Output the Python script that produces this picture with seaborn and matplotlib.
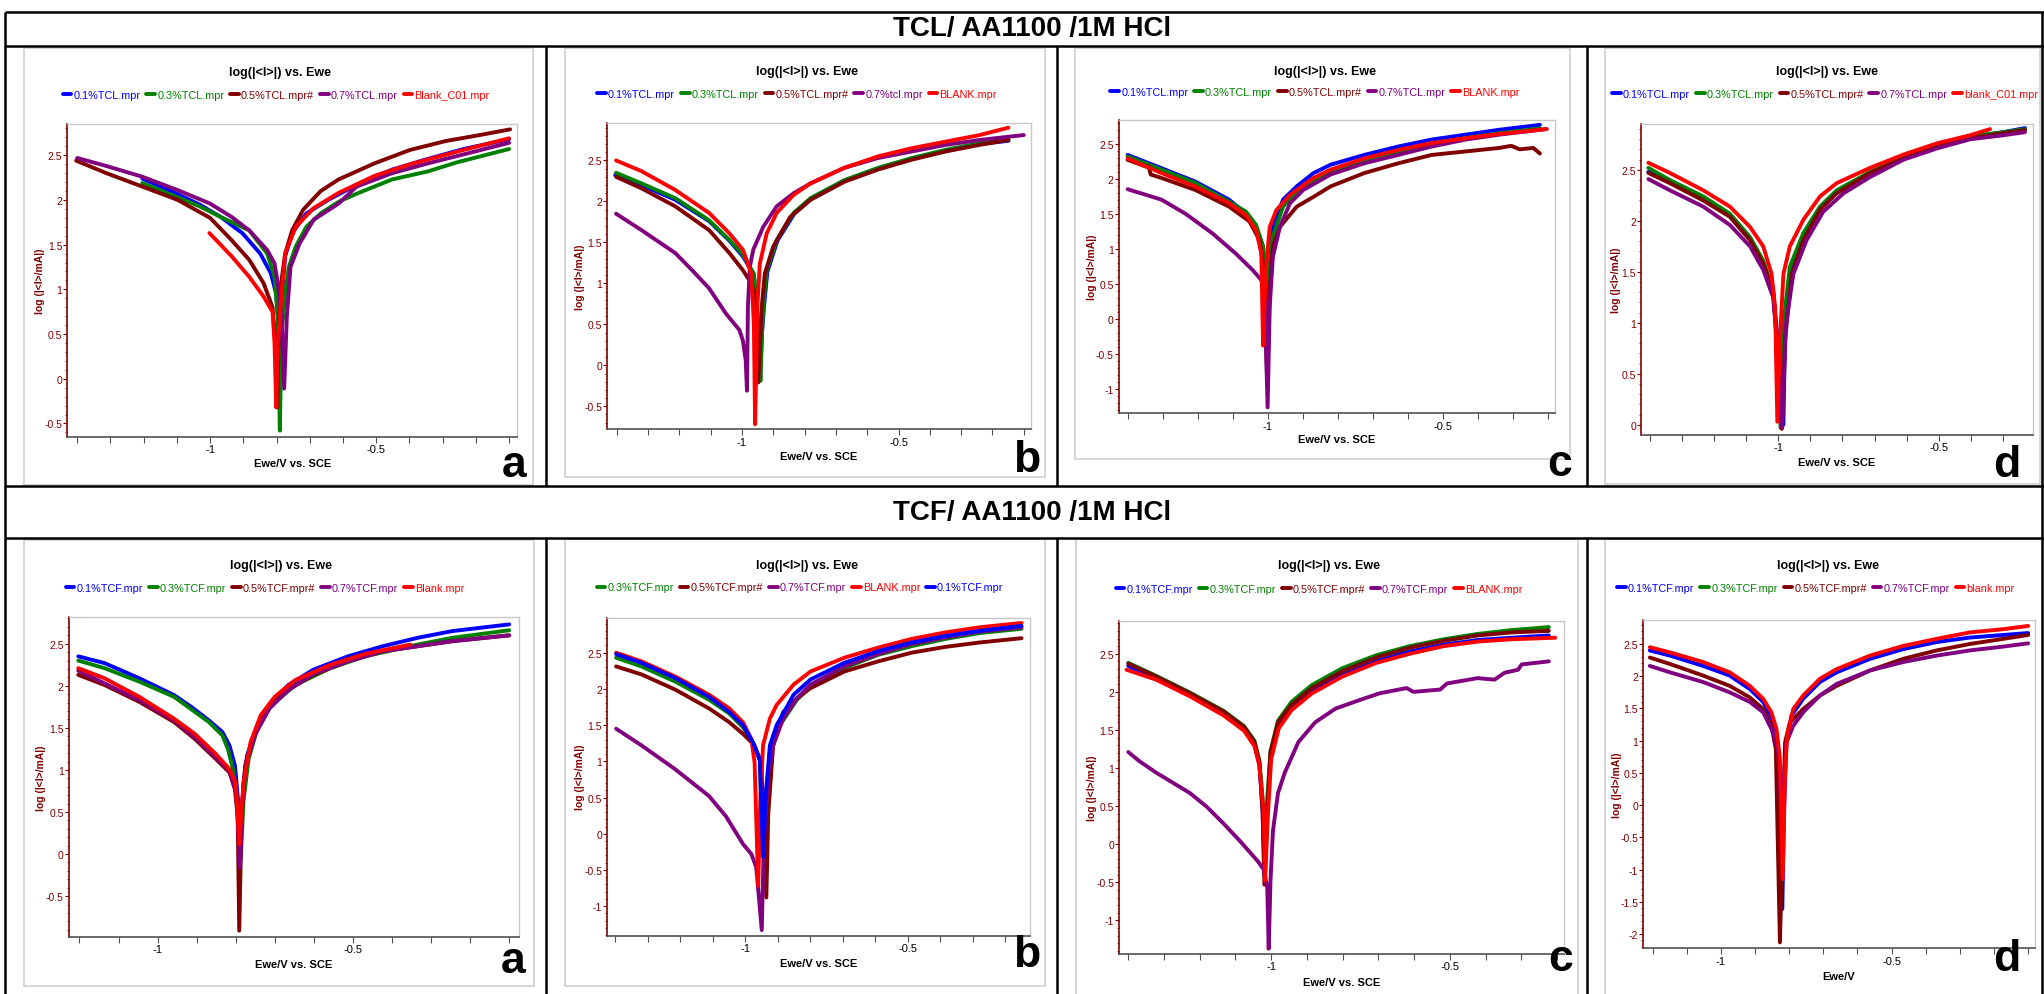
import matplotlib
matplotlib.use("Agg")
import matplotlib.pyplot as plt
import seaborn as sns
import pandas as pd
from matplotlib import font_manager
from matplotlib.patches import Rectangle
from matplotlib.lines import Line2D
from matplotlib.ticker import MultipleLocator, FuncFormatter

# ---------------------------------------------------------------------------
# Polarisation curves: (E / V vs. SCE, log(|I| / mA)) for each inhibitor dose
# ---------------------------------------------------------------------------

# TCL, panel a
tcl_a_01 = [(-1.204, 2.24), (-1.118, 2.10), (-1.032, 1.95), (-0.968, 1.81), (-0.903, 1.63), (-0.849, 1.40),
            (-0.817, 1.18), (-0.801, 0.95), (-0.792, 0.50), (-0.789, -0.06), (-0.785, 0.88), (-0.774, 1.37),
            (-0.753, 1.63), (-0.710, 1.85), (-0.645, 2.00), (-0.559, 2.17), (-0.452, 2.34), (-0.344, 2.46),
            (-0.237, 2.57), (-0.100, 2.68)]
tcl_a_03 = [(-1.204, 2.19), (-1.118, 2.06), (-1.032, 1.93), (-0.968, 1.81), (-0.882, 1.66), (-0.828, 1.40),
            (-0.806, 1.14), (-0.796, 0.69), (-0.790, -0.58), (-0.785, 0.50), (-0.774, 0.95), (-0.763, 1.25),
            (-0.742, 1.48), (-0.710, 1.70), (-0.667, 1.85), (-0.613, 1.98), (-0.559, 2.07), (-0.452, 2.23),
            (-0.344, 2.32), (-0.258, 2.42), (-0.100, 2.57)]
tcl_a_05 = [(-1.403, 2.44), (-1.312, 2.30), (-1.204, 2.15), (-1.097, 2.00), (-1.000, 1.80), (-0.935, 1.55),
            (-0.882, 1.33), (-0.839, 1.07), (-0.812, 0.80), (-0.803, 0.40), (-0.798, -0.32), (-0.792, 0.70),
            (-0.785, 1.10), (-0.774, 1.40), (-0.753, 1.66), (-0.720, 1.89), (-0.667, 2.10), (-0.613, 2.23),
            (-0.505, 2.41), (-0.398, 2.56), (-0.290, 2.66), (-0.183, 2.73), (-0.097, 2.79)]
tcl_a_07 = [(-1.400, 2.47), (-1.312, 2.38), (-1.204, 2.26), (-1.097, 2.11), (-1.000, 1.96), (-0.935, 1.81),
            (-0.882, 1.66), (-0.828, 1.44), (-0.806, 1.29), (-0.796, 1.07), (-0.785, 0.69), (-0.777, -0.11),
            (-0.769, 0.69), (-0.758, 1.25), (-0.731, 1.51), (-0.688, 1.78), (-0.613, 1.96), (-0.559, 2.15),
            (-0.452, 2.30), (-0.344, 2.41), (-0.237, 2.51), (-0.100, 2.64)]
tcl_a_blank = [(-1.002, 1.63), (-0.935, 1.37), (-0.882, 1.14), (-0.839, 0.92), (-0.812, 0.75), (-0.806, 0.40),
               (-0.801, -0.32), (-0.796, 0.40), (-0.785, 0.95), (-0.774, 1.40), (-0.742, 1.70), (-0.688, 1.91),
               (-0.613, 2.08), (-0.505, 2.27), (-0.398, 2.40), (-0.237, 2.56), (-0.100, 2.69)]

# TCL, panel b
tcl_b_01 = [(-1.405, 2.32), (-1.321, 2.20), (-1.213, 2.02), (-1.105, 1.76), (-1.040, 1.52), (-0.997, 1.33),
            (-0.975, 1.19), (-0.962, 1.10), (-0.950, 0.55), (-0.942, -0.15), (-0.936, 0.40), (-0.930, 0.70),
            (-0.919, 1.14), (-0.887, 1.52), (-0.833, 1.85), (-0.779, 2.03), (-0.673, 2.25), (-0.565, 2.40),
            (-0.457, 2.52), (-0.349, 2.62), (-0.241, 2.70), (-0.149, 2.74)]
tcl_b_03 = [(-1.402, 2.35), (-1.321, 2.22), (-1.213, 2.04), (-1.105, 1.77), (-1.040, 1.53), (-0.997, 1.35),
            (-0.975, 1.20), (-0.962, 1.12), (-0.950, 0.60), (-0.941, -0.19), (-0.936, 0.40), (-0.932, 0.71),
            (-0.921, 1.16), (-0.889, 1.53), (-0.835, 1.86), (-0.781, 2.04), (-0.673, 2.26), (-0.565, 2.41),
            (-0.457, 2.53), (-0.349, 2.63), (-0.241, 2.71), (-0.149, 2.75)]
tcl_b_05 = [(-1.402, 2.30), (-1.321, 2.16), (-1.213, 1.94), (-1.105, 1.65), (-1.040, 1.37), (-0.997, 1.16),
            (-0.970, 1.00), (-0.954, 0.79), (-0.948, -0.21), (-0.937, 0.71), (-0.927, 1.12), (-0.900, 1.45),
            (-0.846, 1.81), (-0.781, 2.02), (-0.673, 2.24), (-0.565, 2.39), (-0.457, 2.51), (-0.349, 2.61),
            (-0.241, 2.69), (-0.149, 2.75)]
tcl_b_07 = [(-1.402, 1.85), (-1.321, 1.65), (-1.213, 1.37), (-1.159, 1.16), (-1.105, 0.94), (-1.051, 0.63),
            (-1.008, 0.43), (-0.997, 0.30), (-0.988, 0.06), (-0.984, -0.31), (-0.981, 0.71), (-0.975, 1.20),
            (-0.964, 1.41), (-0.932, 1.69), (-0.889, 1.94), (-0.835, 2.10), (-0.781, 2.22), (-0.673, 2.41),
            (-0.565, 2.53), (-0.457, 2.61), (-0.349, 2.69), (-0.241, 2.75), (-0.100, 2.81)]
tcl_b_blank = [(-1.402, 2.50), (-1.321, 2.37), (-1.213, 2.14), (-1.105, 1.86), (-1.040, 1.61), (-0.997, 1.41),
               (-0.970, 1.12), (-0.962, 0.50), (-0.958, -0.72), (-0.953, 0.30), (-0.951, 0.71), (-0.943, 1.24),
               (-0.921, 1.61), (-0.889, 1.86), (-0.835, 2.08), (-0.781, 2.22), (-0.673, 2.41), (-0.565, 2.55),
               (-0.457, 2.65), (-0.349, 2.73), (-0.241, 2.81), (-0.149, 2.90)]

# TCL, panel c
tcl_c_01 = [(-1.401, 2.34), (-1.304, 2.15), (-1.208, 1.96), (-1.111, 1.70), (-1.063, 1.50), (-1.034, 1.31),
            (-1.014, 1.03), (-1.007, 0.50), (-1.003, 0.02), (-0.995, 0.88), (-0.986, 1.31), (-0.957, 1.70),
            (-0.918, 1.89), (-0.870, 2.08), (-0.821, 2.20), (-0.725, 2.34), (-0.628, 2.46), (-0.532, 2.56),
            (-0.435, 2.63), (-0.339, 2.70), (-0.223, 2.77)]
tcl_c_03 = [(-1.401, 2.32), (-1.304, 2.13), (-1.208, 1.94), (-1.111, 1.67), (-1.063, 1.53), (-1.034, 1.34),
            (-1.014, 1.03), (-1.007, 0.50), (-1.003, 0.17), (-0.996, 0.70), (-0.986, 1.17), (-0.957, 1.60),
            (-0.918, 1.82), (-0.870, 1.98), (-0.821, 2.10), (-0.725, 2.27), (-0.628, 2.39), (-0.532, 2.49),
            (-0.435, 2.58), (-0.339, 2.65), (-0.223, 2.72)]
tcl_c_05 = [(-1.401, 2.27), (-1.347, 2.17), (-1.341, 2.18), (-1.335, 2.06), (-1.304, 2.01), (-1.208, 1.84),
            (-1.111, 1.60), (-1.053, 1.39), (-1.024, 1.12), (-1.010, 0.64), (-1.002, -0.94), (-0.995, 0.40),
            (-0.986, 1.03), (-0.966, 1.31), (-0.918, 1.60), (-0.870, 1.74), (-0.821, 1.89), (-0.725, 2.08),
            (-0.628, 2.22), (-0.532, 2.34), (-0.435, 2.39), (-0.339, 2.44), (-0.305, 2.47), (-0.281, 2.42),
            (-0.242, 2.44), (-0.223, 2.36)]
tcl_c_07 = [(-1.401, 1.85), (-1.304, 1.70), (-1.236, 1.50), (-1.159, 1.22), (-1.092, 0.93), (-1.043, 0.69),
            (-1.019, 0.55), (-1.010, 0.36), (-1.001, -1.27), (-0.995, 0.17), (-0.986, 0.88), (-0.966, 1.31),
            (-0.937, 1.65), (-0.899, 1.84), (-0.821, 2.06), (-0.725, 2.22), (-0.628, 2.34), (-0.532, 2.46),
            (-0.435, 2.56), (-0.339, 2.63), (-0.204, 2.71)]
tcl_c_blank = [(-1.401, 2.29), (-1.304, 2.08), (-1.208, 1.89), (-1.111, 1.65), (-1.063, 1.48), (-1.034, 1.27),
               (-1.019, 0.93), (-1.014, -0.385), (-1.007, 0.64), (-0.995, 1.31), (-0.976, 1.55), (-0.937, 1.77),
               (-0.870, 2.01), (-0.821, 2.13), (-0.725, 2.29), (-0.628, 2.41), (-0.532, 2.51), (-0.435, 2.58),
               (-0.339, 2.64), (-0.204, 2.71)]

# TCL, panel d
tcl_d_01 = [(-1.405, 2.48), (-1.338, 2.38), (-1.234, 2.21), (-1.151, 2.05), (-1.088, 1.82), (-1.047, 1.59),
            (-1.016, 1.30), (-0.995, 0.60), (-0.984, 0.00), (-0.979, 0.95), (-0.960, 1.52), (-0.920, 1.86),
            (-0.868, 2.13), (-0.816, 2.29), (-0.714, 2.47), (-0.610, 2.62), (-0.506, 2.74), (-0.402, 2.82),
            (-0.298, 2.87), (-0.231, 2.91)]
tcl_d_03 = [(-1.405, 2.52), (-1.338, 2.40), (-1.234, 2.24), (-1.151, 2.07), (-1.088, 1.84), (-1.047, 1.61),
            (-1.016, 1.32), (-1.000, 0.60), (-0.993, -0.03), (-0.984, 0.99), (-0.964, 1.55), (-0.922, 1.88),
            (-0.870, 2.14), (-0.818, 2.30), (-0.714, 2.48), (-0.610, 2.63), (-0.506, 2.75), (-0.402, 2.83),
            (-0.298, 2.87), (-0.231, 2.90)]
tcl_d_05 = [(-1.405, 2.47), (-1.338, 2.37), (-1.234, 2.20), (-1.151, 2.04), (-1.088, 1.81), (-1.047, 1.58),
            (-1.016, 1.29), (-0.995, 0.50), (-0.989, -0.04), (-0.979, 0.83), (-0.958, 1.48), (-0.922, 1.81),
            (-0.870, 2.11), (-0.818, 2.27), (-0.714, 2.47), (-0.610, 2.61), (-0.506, 2.73), (-0.402, 2.81),
            (-0.298, 2.86), (-0.231, 2.89)]
tcl_d_07 = [(-1.405, 2.41), (-1.338, 2.30), (-1.234, 2.14), (-1.151, 1.96), (-1.088, 1.75), (-1.047, 1.52),
            (-1.016, 1.25), (-0.995, 0.50), (-0.988, -0.03), (-0.976, 0.99), (-0.953, 1.48), (-0.912, 1.81),
            (-0.860, 2.09), (-0.797, 2.27), (-0.714, 2.43), (-0.610, 2.60), (-0.506, 2.71), (-0.402, 2.80),
            (-0.298, 2.84), (-0.231, 2.87)]
tcl_d_blank = [(-1.405, 2.57), (-1.338, 2.47), (-1.234, 2.30), (-1.151, 2.14), (-1.088, 1.94), (-1.047, 1.75),
               (-1.021, 1.48), (-1.010, 1.15), (-1.003, 0.03), (-0.995, 0.83), (-0.984, 1.48), (-0.964, 1.75),
               (-0.922, 2.01), (-0.870, 2.24), (-0.818, 2.37), (-0.714, 2.52), (-0.610, 2.65), (-0.506, 2.76),
               (-0.402, 2.84), (-0.340, 2.90)]

# TCF, panel a
tcf_a_01 = [(-1.203, 2.35), (-1.136, 2.27), (-1.047, 2.09), (-0.958, 1.89), (-0.914, 1.75), (-0.869, 1.59),
            (-0.834, 1.45), (-0.816, 1.29), (-0.802, 1.05), (-0.794, 0.64), (-0.789, 0.04), (-0.780, 0.85),
            (-0.771, 1.17), (-0.745, 1.53), (-0.709, 1.81), (-0.665, 2.01), (-0.602, 2.19), (-0.513, 2.35),
            (-0.424, 2.47), (-0.335, 2.57), (-0.246, 2.65), (-0.100, 2.73)]
tcf_a_03 = [(-1.203, 2.30), (-1.136, 2.21), (-1.047, 2.05), (-0.958, 1.87), (-0.869, 1.57), (-0.834, 1.41),
            (-0.820, 1.25), (-0.807, 1.01), (-0.794, 0.60), (-0.787, -0.04), (-0.780, 0.64), (-0.767, 1.13),
            (-0.745, 1.49), (-0.709, 1.77), (-0.647, 2.01), (-0.558, 2.21), (-0.469, 2.35), (-0.335, 2.49),
            (-0.246, 2.57), (-0.100, 2.66)]
tcf_a_05 = [(-1.203, 2.13), (-1.136, 2.01), (-1.047, 1.81), (-0.958, 1.57), (-0.905, 1.37), (-0.851, 1.13),
            (-0.816, 0.97), (-0.802, 0.77), (-0.795, 0.44), (-0.791, -0.91), (-0.785, 0.44), (-0.776, 1.05),
            (-0.754, 1.41), (-0.718, 1.71), (-0.673, 1.93), (-0.602, 2.13), (-0.513, 2.29), (-0.424, 2.41),
            (-0.335, 2.47), (-0.246, 2.53), (-0.100, 2.60)]
tcf_a_07 = [(-1.203, 2.18), (-1.136, 2.03), (-1.047, 1.83), (-0.958, 1.59), (-0.905, 1.39), (-0.851, 1.15),
            (-0.816, 0.99), (-0.798, 0.72), (-0.789, -0.16), (-0.783, 0.64), (-0.773, 1.09), (-0.749, 1.43),
            (-0.714, 1.73), (-0.665, 1.95), (-0.602, 2.14), (-0.513, 2.29), (-0.424, 2.41), (-0.335, 2.47),
            (-0.246, 2.53), (-0.100, 2.60)]
tcf_a_blank = [(-1.203, 2.21), (-1.136, 2.09), (-1.047, 1.87), (-0.958, 1.61), (-0.905, 1.43), (-0.851, 1.19),
               (-0.816, 1.01), (-0.800, 0.85), (-0.791, 0.12), (-0.780, 0.85), (-0.762, 1.33), (-0.736, 1.65),
               (-0.700, 1.87), (-0.647, 2.07), (-0.558, 2.25), (-0.469, 2.38), (-0.353, 2.49)]

# TCF, panel b
tcf_b_01 = [(-1.397, 2.48), (-1.319, 2.36), (-1.215, 2.15), (-1.111, 1.89), (-1.049, 1.68), (-1.007, 1.50),
            (-0.976, 1.26), (-0.955, 1.03), (-0.945, -0.32), (-0.937, 0.52), (-0.924, 1.22), (-0.903, 1.50),
            (-0.851, 1.92), (-0.799, 2.13), (-0.695, 2.36), (-0.591, 2.52), (-0.488, 2.64), (-0.384, 2.73),
            (-0.280, 2.80), (-0.150, 2.87)]
tcf_b_03 = [(-1.397, 2.43), (-1.319, 2.31), (-1.215, 2.10), (-1.111, 1.85), (-1.049, 1.66), (-1.007, 1.47),
            (-0.976, 1.26), (-0.955, 1.03), (-0.947, -0.18), (-0.937, 0.52), (-0.922, 1.12), (-0.893, 1.50),
            (-0.841, 1.85), (-0.799, 2.03), (-0.695, 2.29), (-0.591, 2.47), (-0.488, 2.59), (-0.384, 2.69),
            (-0.280, 2.77), (-0.150, 2.83)]
tcf_b_05 = [(-1.397, 2.31), (-1.319, 2.20), (-1.215, 1.99), (-1.111, 1.73), (-1.049, 1.54), (-1.007, 1.38),
            (-0.971, 1.22), (-0.950, 0.94), (-0.935, -0.88), (-0.929, 0.28), (-0.914, 1.22), (-0.883, 1.68),
            (-0.841, 1.87), (-0.799, 2.01), (-0.695, 2.24), (-0.591, 2.38), (-0.488, 2.50), (-0.384, 2.58),
            (-0.280, 2.64), (-0.150, 2.70)]
tcf_b_07 = [(-1.397, 1.45), (-1.319, 1.22), (-1.215, 0.89), (-1.111, 0.52), (-1.059, 0.24), (-1.007, -0.14),
            (-0.981, -0.28), (-0.966, -0.46), (-0.949, -1.33), (-0.943, -0.18), (-0.937, 0.28), (-0.929, 0.84),
            (-0.914, 1.22), (-0.883, 1.59), (-0.841, 1.87), (-0.799, 2.06), (-0.695, 2.31), (-0.591, 2.48),
            (-0.488, 2.62), (-0.384, 2.71), (-0.280, 2.79), (-0.150, 2.85)]
tcf_b_blank = [(-1.397, 2.50), (-1.319, 2.38), (-1.215, 2.17), (-1.111, 1.92), (-1.049, 1.73), (-1.007, 1.54),
               (-0.981, 1.31), (-0.971, 0.98), (-0.960, -0.72), (-0.953, 0.52), (-0.945, 1.22), (-0.924, 1.59),
               (-0.903, 1.78), (-0.851, 2.06), (-0.799, 2.24), (-0.695, 2.43), (-0.591, 2.57), (-0.488, 2.69),
               (-0.384, 2.78), (-0.280, 2.85), (-0.150, 2.91)]

# TCF, panel c
tcf_c_01 = [(-1.400, 2.34), (-1.322, 2.18), (-1.227, 1.96), (-1.133, 1.72), (-1.076, 1.52), (-1.047, 1.32),
            (-1.033, 1.05), (-1.024, 0.45), (-1.019, -0.40), (-1.011, 0.45), (-1.002, 1.15), (-0.981, 1.55),
            (-0.943, 1.80), (-0.886, 2.00), (-0.801, 2.22), (-0.706, 2.40), (-0.612, 2.53), (-0.517, 2.62),
            (-0.422, 2.68), (-0.328, 2.71), (-0.223, 2.74)]
tcf_c_03 = [(-1.400, 2.38), (-1.322, 2.21), (-1.227, 1.99), (-1.133, 1.75), (-1.076, 1.55), (-1.047, 1.36),
            (-1.033, 1.10), (-1.024, 0.60), (-1.017, 0.00), (-1.011, 0.60), (-1.002, 1.22), (-0.981, 1.62),
            (-0.943, 1.87), (-0.886, 2.09), (-0.801, 2.31), (-0.706, 2.48), (-0.612, 2.60), (-0.517, 2.69),
            (-0.422, 2.76), (-0.328, 2.81), (-0.223, 2.85)]
tcf_c_05 = [(-1.400, 2.37), (-1.322, 2.20), (-1.227, 1.98), (-1.133, 1.74), (-1.076, 1.54), (-1.047, 1.34),
            (-1.033, 1.07), (-1.024, 0.41), (-1.019, -0.53), (-1.011, 0.41), (-1.002, 1.20), (-0.981, 1.60),
            (-0.943, 1.83), (-0.886, 2.05), (-0.801, 2.27), (-0.706, 2.45), (-0.612, 2.58), (-0.517, 2.67),
            (-0.422, 2.74), (-0.328, 2.78), (-0.223, 2.80)]
tcf_c_07 = [(-1.400, 1.21), (-1.369, 1.09), (-1.322, 0.94), (-1.227, 0.67), (-1.180, 0.49), (-1.133, 0.27),
            (-1.085, 0.03), (-1.038, -0.22), (-1.021, -0.33), (-1.011, -0.57), (-1.007, -1.37), (-1.002, -0.48),
            (-0.995, 0.18), (-0.981, 0.67), (-0.962, 0.94), (-0.924, 1.34), (-0.877, 1.60), (-0.820, 1.78),
            (-0.754, 1.89), (-0.697, 1.98), (-0.621, 2.05), (-0.602, 2.00), (-0.527, 2.03), (-0.508, 2.11),
            (-0.422, 2.18), (-0.375, 2.16), (-0.347, 2.25), (-0.309, 2.29), (-0.299, 2.36), (-0.223, 2.40)]
tcf_c_blank = [(-1.405, 2.29), (-1.322, 2.16), (-1.227, 1.94), (-1.133, 1.69), (-1.076, 1.49), (-1.047, 1.29),
               (-1.033, 1.03), (-1.021, 0.41), (-1.017, -0.48), (-1.009, 0.41), (-1.000, 1.12), (-0.979, 1.52),
               (-0.943, 1.76), (-0.886, 1.98), (-0.801, 2.20), (-0.706, 2.38), (-0.612, 2.50), (-0.517, 2.60),
               (-0.422, 2.66), (-0.328, 2.69), (-0.205, 2.71)]

# TCF, panel d (the 0.3 % run is listed in the legend but has no trace)
tcf_d_01 = [(-1.208, 2.40), (-1.149, 2.32), (-1.052, 2.16), (-0.974, 2.01), (-0.915, 1.80), (-0.876, 1.60),
            (-0.852, 1.36), (-0.837, 0.97), (-0.820, -1.61), (-0.815, -0.06), (-0.808, 0.97), (-0.793, 1.39),
            (-0.759, 1.65), (-0.710, 1.91), (-0.661, 2.06), (-0.563, 2.27), (-0.466, 2.42), (-0.368, 2.53),
            (-0.271, 2.60), (-0.173, 2.64), (-0.100, 2.67)]
tcf_d_03 = []
tcf_d_05 = [(-1.208, 2.29), (-1.149, 2.19), (-1.052, 2.01), (-0.974, 1.85), (-0.915, 1.67), (-0.876, 1.49),
            (-0.852, 1.23), (-0.839, 0.87), (-0.827, -2.13), (-0.817, -0.06), (-0.812, 0.97), (-0.798, 1.28),
            (-0.759, 1.49), (-0.710, 1.70), (-0.661, 1.85), (-0.563, 2.09), (-0.466, 2.27), (-0.368, 2.40),
            (-0.271, 2.50), (-0.173, 2.58), (-0.100, 2.64)]
tcf_d_07 = [(-1.208, 2.16), (-1.149, 2.06), (-1.052, 1.91), (-0.974, 1.75), (-0.915, 1.60), (-0.876, 1.44),
            (-0.847, 1.13), (-0.832, 0.82), (-0.822, -0.06), (-0.815, 0.46), (-0.808, 0.97), (-0.788, 1.23),
            (-0.759, 1.44), (-0.710, 1.70), (-0.661, 1.88), (-0.563, 2.09), (-0.466, 2.22), (-0.368, 2.32),
            (-0.271, 2.40), (-0.173, 2.46), (-0.100, 2.51)]
tcf_d_blank = [(-1.208, 2.45), (-1.149, 2.37), (-1.052, 2.22), (-0.974, 2.06), (-0.915, 1.85), (-0.876, 1.65),
               (-0.852, 1.44), (-0.837, 1.18), (-0.827, 0.72), (-0.819, -1.15), (-0.812, 0.46), (-0.806, 1.08),
               (-0.788, 1.49), (-0.759, 1.70), (-0.710, 1.96), (-0.661, 2.11), (-0.563, 2.32), (-0.466, 2.47),
               (-0.368, 2.58), (-0.271, 2.68), (-0.173, 2.73), (-0.100, 2.78)]

# Legend entries (file names of the runs)
tcl_a_labels = ["0.1%TCL.mpr", "0.3%TCL.mpr", "0.5%TCL.mpr#", "0.7%TCL.mpr", "Blank_C01.mpr"]
tcl_b_labels = ["0.1%TCL.mpr", "0.3%TCL.mpr", "0.5%TCL.mpr#", "0.7%tcl.mpr", "BLANK.mpr"]
tcl_c_labels = ["0.1%TCL.mpr", "0.3%TCL.mpr", "0.5%TCL.mpr#", "0.7%TCL.mpr", "BLANK.mpr"]
tcl_d_labels = ["0.1%TCL.mpr", "0.3%TCL.mpr", "0.5%TCL.mpr#", "0.7%TCL.mpr", "blank_C01.mpr"]
tcf_a_labels = ["0.1%TCF.mpr", "0.3%TCF.mpr", "0.5%TCF.mpr#", "0.7%TCF.mpr", "Blank.mpr"]
tcf_b_labels = ["0.3%TCF.mpr", "0.5%TCF.mpr#", "0.7%TCF.mpr", "BLANK.mpr", "0.1%TCF.mpr"]
tcf_c_labels = ["0.1%TCF.mpr", "0.3%TCF.mpr", "0.5%TCF.mpr#", "0.7%TCF.mpr", "BLANK.mpr"]
tcf_d_labels = ["0.1%TCF.mpr", "0.3%TCF.mpr", "0.5%TCF.mpr#", "0.7%TCF.mpr", "blank.mpr"]

row_titles = ["TCL/ AA1100 /1M HCl", "TCF/ AA1100 /1M HCl"]
panel_letters = ["a", "b", "c", "d"]

# ---------------------------------------------------------------------------
# Styling
# ---------------------------------------------------------------------------
BLUE, GREEN, MAROON, PURPLE, RED = "#0000ff", "#008000", "#800000", "#800080", "#ff0000"
ORDER = [BLUE, GREEN, MAROON, PURPLE, RED]

sns.set_theme(style="white")
available = {f.name for f in font_manager.fontManager.ttflist}
NARROW = "Liberation Sans Narrow" if "Liberation Sans Narrow" in available else "Liberation Sans"
plt.rcParams["font.family"] = ["Liberation Sans", "DejaVu Sans"]
plt.rcParams["axes.unicode_minus"] = False

W, H = 2044, 995
fig = plt.figure(figsize=(W / 100, H / 100), dpi=100)
fig.patch.set_facecolor("white")


def fx(x):
    return x / W


def fy(y):
    return 1 - y / H


def hline(y, x0, x1, lw=1.8, color="black"):
    fig.add_artist(Line2D([fx(x0), fx(x1)], [fy(y), fy(y)], transform=fig.transFigure,
                          color=color, lw=lw, solid_capstyle="butt"))


def vline(x, y0, y1, lw=1.8, color="black"):
    fig.add_artist(Line2D([fx(x), fx(x)], [fy(y0), fy(y1)], transform=fig.transFigure,
                          color=color, lw=lw, solid_capstyle="butt"))


def draw_curve(ax, pts, color, label):
    if not pts:
        return Line2D([], [], color=color, lw=2.8, label=label)
    df = pd.DataFrame(pts, columns=["E", "logI"])
    sns.lineplot(data=df, x="E", y="logI", ax=ax, color=color, lw=2.8, sort=False,
                 estimator=None, legend=False)
    line = ax.lines[-1]
    line.set_label(label)
    return line


panels = [
    dict(curves=[tcl_a_01, tcl_a_03, tcl_a_05, tcl_a_07, tcl_a_blank], colors=ORDER, labels=tcl_a_labels,
         box=(23.6, 48.7, 532.7, 486), ax=(67.2, 125, 517.4, 437.5), xlim=(-1.43, -0.075), ylim=(-0.646, 2.85),
         title=(280, 73), leg=(276, 96), letter=(514, 466), ylab_x=40, xlab_y=463.6, xlabel="Ewe/V vs. SCE"),
    dict(curves=[tcl_b_01, tcl_b_03, tcl_b_05, tcl_b_07, tcl_b_blank], colors=ORDER, labels=tcl_b_labels,
         box=(565, 48.7, 1045, 478), ax=(607, 124, 1031, 430), xlim=(-1.431, -0.077), ylim=(-0.777, 2.957),
         title=(807, 72), leg=(797, 94.5), letter=(1027, 460), ylab_x=580, xlab_y=457, xlabel="Ewe/V vs. SCE"),
    dict(curves=[tcl_c_01, tcl_c_03, tcl_c_05, tcl_c_07, tcl_c_blank], colors=ORDER, labels=tcl_c_labels,
         box=(1075, 48.7, 1570, 460), ax=(1118.5, 120.6, 1555, 414), xlim=(-1.427, -0.180), ylim=(-1.35, 2.845),
         title=(1325, 72), leg=(1315, 93), letter=(1560, 464), ylab_x=1092, xlab_y=440, xlabel="Ewe/V vs. SCE"),
    dict(curves=[tcl_d_01, tcl_d_03, tcl_d_05, tcl_d_07, tcl_d_blank], colors=ORDER, labels=tcl_d_labels,
         box=(1605, 48.7, 2040, 485), ax=(1641, 125, 2032.7, 435.8), xlim=(-1.428, -0.207), ylim=(-0.098, 2.95),
         title=(1827, 72), leg=(1825, 94.5), letter=(2007, 466), ylab_x=1616, xlab_y=462.6, xlabel="Ewe/V vs. SCE"),
    dict(curves=[tcf_a_01, tcf_a_03, tcf_a_05, tcf_a_07, tcf_a_blank], colors=ORDER, labels=tcf_a_labels,
         box=(24, 540.7, 533.5, 987), ax=(68.5, 618.4, 518.6, 937.7), xlim=(-1.228, -0.076), ylim=(-0.982, 2.813),
         title=(281, 566), leg=(265, 588.7), letter=(512.7, 962), ylab_x=41, xlab_y=965, xlabel="Ewe/V vs. SCE"),
    dict(curves=[tcf_b_03, tcf_b_05, tcf_b_07, tcf_b_blank, tcf_b_01], colors=[GREEN, MAROON, PURPLE, RED, BLUE],
         labels=tcf_b_labels,
         box=(565, 539.7, 1044.7, 986.7), ax=(607, 618.9, 1030, 936.6), xlim=(-1.425, -0.124), ylim=(-1.406, 2.98),
         title=(807, 565.8), leg=(800, 588.4), letter=(1026.8, 956), ylab_x=580, xlab_y=964, xlabel="Ewe/V vs. SCE"),
    dict(curves=[tcf_c_01, tcf_c_03, tcf_c_05, tcf_c_07, tcf_c_blank], colors=ORDER, labels=tcf_c_labels,
         box=(1076, 540, 1578, 1000), ax=(1119, 621.6, 1563.8, 954.6), xlim=(-1.426, -0.181), ylim=(-1.435, 2.935),
         title=(1329, 566.5), leg=(1319, 590), letter=(1560.4, 960), ylab_x=1092, xlab_y=983, xlabel="Ewe/V vs. SCE"),
    dict(curves=[tcf_d_01, tcf_d_03, tcf_d_05, tcf_d_07, tcf_d_blank], colors=ORDER, labels=tcf_d_labels,
         box=(1605, 540, 2050, 1000), ax=(1643, 620.7, 2035, 949.3), xlim=(-1.228, -0.080), ylim=(-2.222, 2.877),
         title=(1828, 565.7), leg=(1816, 589), letter=(2006.7, 960), ylab_x=1617, xlab_y=976.7, xlabel="Ewe/V"),
]

fmt = FuncFormatter(lambda v, p: f"{v:g}")

for i, p in enumerate(panels):
    bx0, by0, bx1, by1 = p["box"]
    fig.add_artist(Rectangle((fx(bx0), fy(by1)), fx(bx1) - fx(bx0), fy(by0) - fy(by1),
                             transform=fig.transFigure, facecolor="white", edgecolor="#cfcfcf", lw=1.2, zorder=0))
    ax0, ay0, ax1, ay1 = p["ax"]
    ax = fig.add_axes([fx(ax0), fy(ay1), fx(ax1) - fx(ax0), fy(ay0) - fy(ay1)])
    ax.set_facecolor("white")

    handles = [draw_curve(ax, pts, c, lab) for pts, c, lab in zip(p["curves"], p["colors"], p["labels"])]

    ax.set_xlim(*p["xlim"])
    ax.set_ylim(*p["ylim"])
    ax.xaxis.set_major_locator(MultipleLocator(0.5))
    ax.xaxis.set_minor_locator(MultipleLocator(0.1))
    ax.yaxis.set_major_locator(MultipleLocator(0.5))
    ax.yaxis.set_minor_locator(MultipleLocator(0.1))
    ax.xaxis.set_major_formatter(fmt)
    ax.yaxis.set_major_formatter(fmt)
    ax.tick_params(axis="x", which="both", bottom=True, direction="out", length=4, width=0.8,
                   color="#505050", labelsize=8, pad=1.5, labelcolor="black")
    ax.tick_params(axis="y", which="major", left=True, direction="out", length=3, width=0.8,
                   color=MAROON, labelsize=7.5, pad=0.5, labelcolor=MAROON)
    ax.tick_params(axis="y", which="minor", left=True, direction="out", length=1.8, width=0.6, color=MAROON)
    for lab in ax.get_xticklabels() + ax.get_yticklabels():
        lab.set_fontfamily(NARROW)

    ax.spines["left"].set_color(MAROON)
    ax.spines["left"].set_linewidth(1.2)
    ax.spines["bottom"].set_color("#505050")
    ax.spines["bottom"].set_linewidth(1.2)
    for side in ("top", "right"):
        ax.spines[side].set_color("#c8c8c8")
        ax.spines[side].set_linewidth(1.0)

    ax.set_xlabel(p["xlabel"], fontsize=8, fontweight="bold", color="black", family=NARROW)
    ax.set_ylabel("log (|<I>/mA|)", fontsize=7.5, fontweight="bold", color=MAROON, family=NARROW)
    axw = ax1 - ax0
    axh = ay1 - ay0
    ax.xaxis.label.set_va("center")
    ax.yaxis.label.set_va("center")
    ax.xaxis.set_label_coords(0.5, -(p["xlab_y"] - ay1) / axh)
    ax.yaxis.set_label_coords(-(ax0 - p["ylab_x"]) / axw, 0.5)

    tx, ty = p["title"]
    fig.text(fx(tx), fy(ty), "log(|<I>|) vs. Ewe", ha="center", va="center", fontsize=9,
             fontweight="bold", color="black", family=NARROW)

    lx, ly = p["leg"]
    ax.legend(handles=handles, labels=p["labels"], loc="center", bbox_to_anchor=(fx(lx), fy(ly)),
              bbox_transform=fig.transFigure, ncol=5, frameon=False, handlelength=0.8,
              handletextpad=0.2, columnspacing=0.55, labelcolor=p["colors"],
              prop={"family": NARROW, "size": 7.8}, borderaxespad=0, borderpad=0)

    lx2, ly2 = p["letter"]
    fig.text(fx(lx2), fy(ly2), panel_letters[i % 4], ha="center", va="center", fontsize=32,
             fontweight="bold", color="black", family="Liberation Sans")

# Table frame and row headers
hline(13, 5, W)
hline(47, 5, W)
hline(487, 5, W)
hline(539, 5, W)
vline(5, 13, H)
vline(2042, 13, H)
for cx in (546, 1057, 1587):
    vline(cx, 47, 487)
    vline(cx, 539, H)

fig.text(fx(1032), fy(29), row_titles[0], ha="center", va="center", fontsize=20,
         fontweight="bold", color="black", family="Liberation Sans")
fig.text(fx(1032), fy(513), row_titles[1], ha="center", va="center", fontsize=20,
         fontweight="bold", color="black", family="Liberation Sans")

fig.savefig("out.png", dpi=100, facecolor="white")
